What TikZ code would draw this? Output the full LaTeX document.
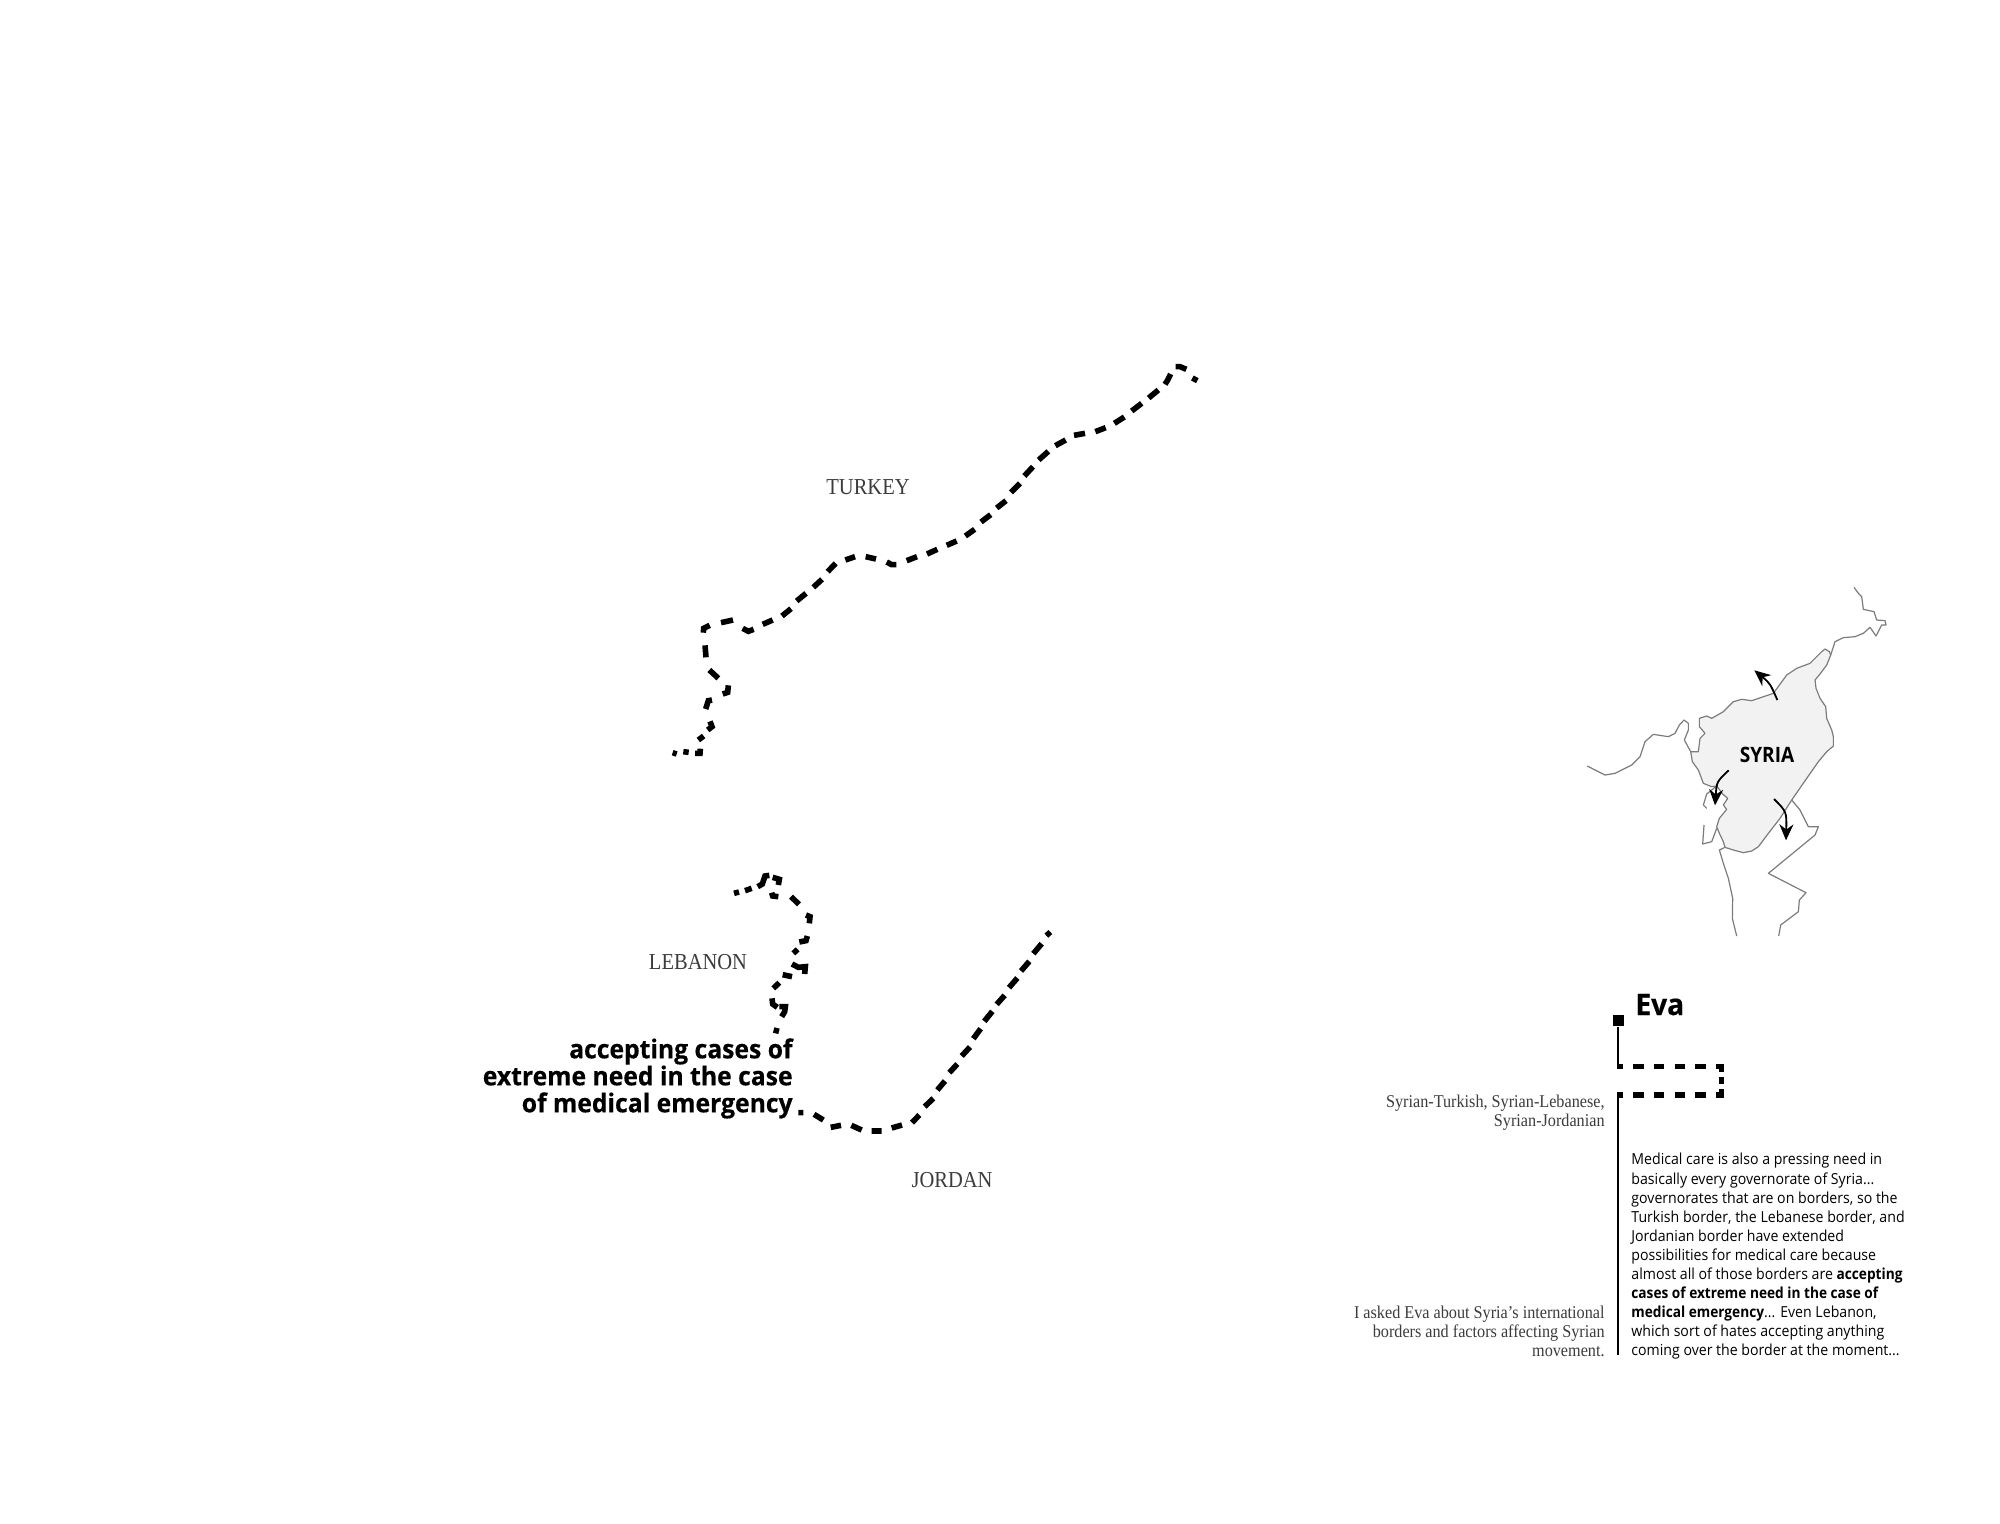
\documentclass[tikz,border=0pt]{standalone}
\usepackage{fontspec}
\usetikzlibrary{arrows.meta}
\setmainfont[FakeStretch=0.9]{Liberation Serif}
\newfontfamily\sansbody[FakeStretch=0.93]{Open Sans}
\newfontfamily\sansheavy[FakeStretch=0.9]{Open Sans Bold}
\newfontfamily\sansblack[FakeStretch=0.95,FakeBold=0.4]{Open Sans Bold}
\newcommand{\hv}[1]{{\sansheavy #1}}
\definecolor{mapline}{HTML}{7C7C7C}
\definecolor{mapfill}{HTML}{F2F2F2}
\definecolor{serifgrey}{HTML}{3C3C3C}
\tikzset{
  borderdash/.style={draw=black,line width=2.8pt,line cap=butt,line join=miter},
  mapedge/.style={draw=mapline,line width=0.6pt,line join=round},
  flow/.style={draw=black,line width=0.9pt,-{Stealth[length=8pt,width=7pt]}},
  country/.style={font=\fontsize{11.4}{12}\selectfont,text=serifgrey,inner sep=0pt},
  serifnote/.style={font=\fontsize{9}{9.4}\selectfont,text=serifgrey,inner sep=0pt,align=right,anchor=north east},
}
\begin{document}
\begin{tikzpicture}[x=0.5pt,y=-0.5pt]
\path[use as bounding box,fill=white] (0,0) rectangle (2000,1524);

% Turkish border, western part
\begin{scope}[shift={(660,540)},x=0.16667pt,y=-0.16667pt]
\draw[borderdash]
 (38,638)--(50,642) (70,635)--(86,637) (105,640)--(120,640)--(121,626)
 (115,600)--(131,588) (143,570)--(156,560)--(150,544)
 (137,507)--(145,482)--(156,480) (188,462)--(203,457)--(205,436)
 (148,390)--(175,415) (135,316)--(138,352) (130,278)--(131,265)--(149,256)
 (183,248)--(219,240) (248,265)--(265,274)--(281,268) (308,253)--(338,240)
 (366,228)--(393,206) (410,183)--(438,160) (460,142)--(486,118)
 (503,95)--(527,70) (556,60)--(585,50) (617,50)--(648,57)
 (680,66)--(695,74)--(709,74) (740,62)--(771,50) (801,42)--(832,28)
 (860,16)--(890,3);
\end{scope}
% Turkish border, eastern part
\begin{scope}[shift={(960,350)},x=0.16667pt,y=-0.16667pt]
\draw[borderdash]
 (16,558)--(44,538) (63,516)--(92,494) (110,474)--(138,452) (153,427)--(180,400)
 (193,378)--(219,350) (236,330)--(265,304) (286,287)--(317,270) (342,256)--(375,250)
 (406,245)--(437,233) (463,220)--(493,201) (515,183)--(545,160) (566,144)--(595,120)
 (615,103)--(623,90)--(632,72) (647,50)--(660,50)--(679,58) (697,84)--(712,92);
\end{scope}
% Lebanese border
\begin{scope}[shift={(730,870)},x=0.16667pt,y=-0.16667pt]
\draw[borderdash]
 (12,70)--(27,66) (45,62)--(65,55) (83,50)--(97,42)--(105,18)--(118,16)
 (128,22)--(148,28)--(145,45) (125,68)--(128,78)--(145,80)
 (183,80)--(207,103) (228,135)--(240,140)--(238,160)
 (208,216)--(228,212)--(232,198) (190,250)--(203,238)
 (186,282)--(205,292)--(226,290)--(224,312) (158,314)--(186,320)
 (130,355)--(148,338) (126,385)--(128,402)--(142,412)
 (148,410)--(166,410)--(164,425)--(155,440) (131,480)--(147,484);
\end{scope}
% Jordanian border
\begin{scope}[shift={(790,920)},x=0.16667pt,y=-0.16667pt]
\draw[borderdash]
 (25,578)--(40,578) (72,583)--(100,600) (122,622)--(153,616) (184,616)--(215,630)
 (245,633)--(275,633) (305,624)--(336,615) (366,608)--(388,585) (404,560)--(430,535)
 (442,510)--(465,483) (478,458)--(502,432) (515,408)--(540,381) (550,356)--(572,326)
 (583,304)--(607,274) (620,253)--(644,226) (657,203)--(682,174) (693,153)--(718,124)
 (730,101)--(755,71) (769,47)--(781,36);
\end{scope}

% country labels
\node[country] (turkey) at (868,487) {TURKEY};
\node[country] (lebanon) at (698,962) {LEBANON};
\node[country] (jordan) at (952,1180) {JORDAN};

% bold quotation
\node[inner sep=0pt,align=right,anchor=north east,font={\sansblack\fontsize{13}{13.5}\selectfont}] (quote) at (793,1038)
 {accepting cases of\\extreme need in the case\\of medical emergency};

% locator map
\begin{scope}[shift={(1560,570)},x=0.16667pt,y=-0.16667pt]
\draw[mapedge,fill=mapfill] (795,237)--(808,245)--(812,255)--(800,285)--(780,312)--(765,330)--(768,355)--(780,385)--(797,410)--(800,445)--(815,480)--(820,500)--(820,528)--(800,545)--(775,575)--(740,625)--(695,690)--(660,745)--(625,790)--(595,830)--(575,843)--(550,848)--(520,840)--(495,832)--(490,815)--(478,790)--(470,770)--(478,745)--(500,718)--(490,705)--(503,685)--(488,672)--(470,648)--(455,650)--(430,640)--(415,600)--(397,575)--(392,545)--(415,545)--(420,505)--(435,490)--(418,470)--(418,445)--(440,438)--(455,445)--(490,425)--(520,395)--(545,388)--(575,392)--(640,370)--(680,315)--(710,295)--(750,280)--(785,245)--cycle;
\draw[mapedge] (812,255)--(825,215)--(850,203)--(885,200)--(910,190)--(930,172)--(948,198)--(965,165)--(978,165)--(975,152)--(950,150)--(942,125)--(910,118)--(905,80)--(895,70)--(882,52);
\draw[mapedge] (392,545)--(373,510)--(385,480)--(385,460)--(372,450)--(358,465)--(345,490)--(325,500)--(280,493)--(255,515)--(240,560)--(215,585)--(165,610)--(135,615)--(105,600)--(82,588);
\draw[mapedge] (470,648)--(440,672)--(430,705)--(440,715);
\draw[mapedge] (432,765)--(428,822)--(455,815)--(470,775);
\draw[mapedge] (495,832)--(478,840)--(490,880)--(505,925)--(518,985)--(517,1045)--(530,1098);
\draw[mapedge] (695,690)--(720,720)--(745,770)--(775,770)--(765,795)--(625,910)--(738,968)--(718,990)--(715,1025)--(662,1065)--(656,1098);
\node[inner sep=0pt,font={\sansheavy\fontsize{10.6}{12}\selectfont}] (syria) at (621,555) {SYRIA};
\coordinate (a1s) at (652,390); \coordinate (a1e) at (583,301);
\coordinate (a2s) at (506,601); \coordinate (a2e) at (465,706);
\coordinate (a3s) at (642,687); \coordinate (a3e) at (678,811);
\draw[flow] (a1s) .. controls (630,340) .. (a1e);
\draw[flow] (a2s) .. controls (470,635) .. (a2e);
\draw[flow] (a3s) .. controls (680,725) .. (a3e);
\end{scope}

% Eva
\node[inner sep=0pt,anchor=base west,font={\sansblack\fontsize{14.8}{16}\selectfont}] (eva) at (1635,1015) {Eva};
\node[fill=black,minimum size=5.7pt,inner sep=0pt] (evamark) at (1618.3,1020.7) {};
\coordinate (t1) at (1618.3,1067);
\coordinate (t2) at (1618.3,1092);
\coordinate (t3) at (1618.3,1355);
\draw[line width=1pt] (evamark) -- (t1);
\draw[line width=1pt] (t2) -- (t3);
\begin{scope}[shift={(1600,990)},x=0.16667pt,y=-0.16667pt]
\draw[borderdash]
 (52,229)--(70,229) (100,229)--(131,229) (162,229)--(193,229) (224,229)--(255,229) (286,229)--(317,229)
 (348,229)--(365,229)--(365,245) (364,262)--(364,281) (365,298)--(365,315)--(348,315)
 (317,315)--(286,315) (255,315)--(224,315) (193,315)--(162,315) (131,315)--(100,315) (70,315)--(52,315);
\end{scope}

% side notes
\node[serifnote] (note1) at (1605,1095) {Syrian-Turkish, Syrian-Lebanese,\\Syrian-Jordanian};
\node[serifnote] (note2) at (1605,1306) {I asked Eva about Syria’s international\\borders and factors affecting Syrian\\movement.};

% main text
\node[inner sep=0pt,align=left,anchor=north west,font={\sansbody\fontsize{7.6}{9.55}\selectfont}] (body) at (1631,1153)
 {Medical care is also a pressing need in\\
  basically every governorate of Syria...\\
  governorates that are on borders, so the\\
  Turkish border, the Lebanese border, and\\
  Jordanian border have extended\\
  possibilities for medical care because\\
  almost all of those borders are \hv{accepting}\\
  \hv{cases of extreme need in the case of}\\
  \hv{medical emergency}... Even Lebanon,\\
  which sort of hates accepting anything\\
  coming over the border at the moment...};
\end{tikzpicture}
\end{document}
